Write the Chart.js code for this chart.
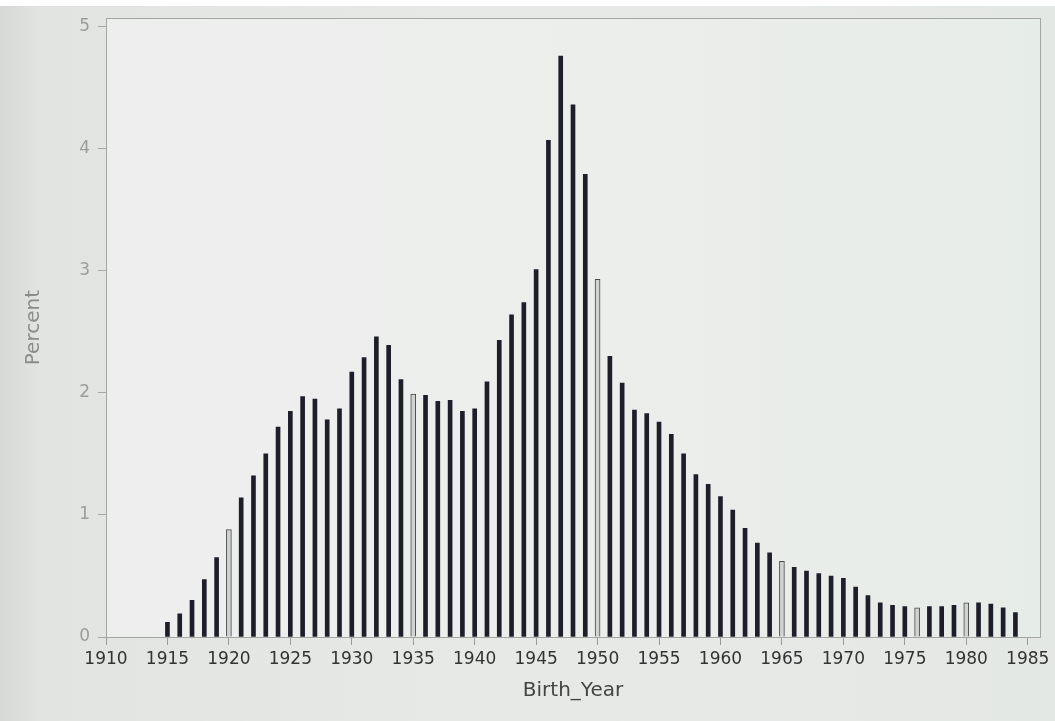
<!DOCTYPE html>
<html>
<head>
<meta charset="utf-8">
<script src="https://cdn.jsdelivr.net/npm/chart.js@4.4.1/dist/chart.umd.min.js"></script>
<style>
  html, body { margin: 0; padding: 0; }
  body {
    width: 1055px; height: 721px; overflow: hidden; position: relative;
    background: linear-gradient(to right, #d6d8d6 0px, #e2e4e2 40px, #e7e9e7 500px, #e4e8e5 1055px);
  }
  #topband { position: absolute; left: 0; top: 0; width: 1055px; height: 6px; background: #ffffff; z-index: 2; }
  #wrap { position: absolute; left: 0; top: 0; width: 1055px; height: 721px; }
</style>
</head>
<body>
<div id="topband"></div>
<div id="wrap"><canvas id="c" width="1055" height="721"></canvas></div>
<script>
// ---- data ----
const years = [1915,1916,1917,1918,1919,1920,1921,1922,1923,1924,
               1925,1926,1927,1928,1929,1930,1931,1932,1933,1934,
               1935,1936,1937,1938,1939,1940,1941,1942,1943,1944,
               1945,1946,1947,1948,1949,1950,1951,1952,1953,1954,
               1955,1956,1957,1958,1959,1960,1961,1962,1963,1964,
               1965,1966,1967,1968,1969,1970,1971,1972,1973,1974,
               1975,1976,1977,1978,1979,1980,1981,1982,1983,1984];
const percents = [0.12,0.19,0.30,0.47,0.65,0.88,1.14,1.32,1.50,1.72,
                  1.85,1.97,1.95,1.78,1.87,2.17,2.29,2.46,2.39,2.11,
                  1.99,1.98,1.93,1.94,1.85,1.87,2.09,2.43,2.64,2.74,
                  3.01,4.07,4.76,4.36,3.79,2.93,2.30,2.08,1.86,1.83,
                  1.76,1.66,1.50,1.33,1.25,1.15,1.04,0.89,0.77,0.69,
                  0.62,0.57,0.54,0.52,0.50,0.48,0.41,0.34,0.28,0.26,
                  0.25,0.24,0.25,0.25,0.26,0.28,0.28,0.27,0.24,0.20];
const xTickLabels = [1910,1915,1920,1925,1930,1935,1940,1945,1950,1955,1960,1965,1970,1975,1980,1985];
const yTickLabels = [0,1,2,3,4,5];
const outlinedYears = [1920,1935,1950,1965,1976,1980];

// ---- build datasets ----
const solidPts = [], outlinePts = [];
years.forEach((yr, i) => {
  const p = { x: yr, y: percents[i] };
  (outlinedYears.includes(yr) ? outlinePts : solidPts).push(p);
});

const frame = {
  id: 'frame',
  beforeDraw(chart) {
    const { ctx, chartArea: a } = chart;
    ctx.save();
    const g = ctx.createLinearGradient(a.left, 0, a.right, 0);
    g.addColorStop(0, '#eeeeee');
    g.addColorStop(0.5, '#eceeec');
    g.addColorStop(1, '#e6ece8');
    ctx.fillStyle = g;
    ctx.fillRect(a.left, a.top, a.right - a.left, a.bottom - a.top);
    ctx.restore();
  },
  afterDraw(chart) {
    const { ctx, chartArea: a } = chart;
    ctx.save();
    ctx.strokeStyle = '#a4a6a4';
    ctx.lineWidth = 1;
    ctx.strokeRect(Math.round(a.left) + 0.5, Math.round(a.top) + 0.5,
                   Math.round(a.right - a.left), Math.round(a.bottom - a.top));
    ctx.restore();
  }
};

new Chart(document.getElementById('c'), {
  type: 'bar',
  data: {
    datasets: [
      { label: 'Percent', data: solidPts, backgroundColor: '#1e1e2a', borderWidth: 0,
        barThickness: 4, grouped: false },
      { label: 'Percent ', data: outlinePts, backgroundColor: '#cfd3d1', borderColor: '#4a4a4a',
        borderWidth: 1, barThickness: 5, grouped: false }
    ]
  },
  options: {
    responsive: false,
    animation: false,
    devicePixelRatio: 1,
    layout: { padding: { left: 22, right: 15, top: 15, bottom: 14 } },
    plugins: { legend: { display: false }, tooltip: { enabled: false } },
    scales: {
      x: {
        type: 'linear',
        min: 1910, max: 1986,
        offset: false,
        afterBuildTicks: (s) => { s.ticks = xTickLabels.map(v => ({ value: v })); },
        ticks: { color: '#333333', font: { family: 'DejaVu Sans', size: 17 }, padding: 4,
                 maxRotation: 0, autoSkip: false, callback: (v) => String(v) },
        grid: { display: true, offset: false, drawOnChartArea: false, drawTicks: true, tickLength: 8, color: '#9a9a9a' },
        border: { display: true, color: '#9a9a9a' },
        title: { display: true, text: 'Birth_Year', color: '#444444',
                 font: { family: 'DejaVu Sans', size: 20 }, padding: { top: 4, bottom: 4 } },
        afterFit: (s) => { s.height = 721 - 637 - 14; }
      },
      y: {
        min: 0, max: 5.07,
        afterBuildTicks: (s) => { s.ticks = yTickLabels.map(v => ({ value: v })); },
        ticks: { color: '#9c9c9c', font: { family: 'DejaVu Sans', size: 17 }, padding: 8 },
        grid: { display: true, offset: false, drawOnChartArea: false, drawTicks: true, tickLength: 8, color: '#a8a8a8' },
        border: { display: true, color: '#a4a6a4' },
        title: { display: true, text: 'Percent', color: '#8c8c8c',
                 font: { family: 'DejaVu Sans', size: 20 }, padding: { top: 0, bottom: 4 } },
        afterFit: (s) => { s.width = 106 - 22; }
      }
    }
  },
  plugins: [frame]
});
</script>
</body>
</html>
